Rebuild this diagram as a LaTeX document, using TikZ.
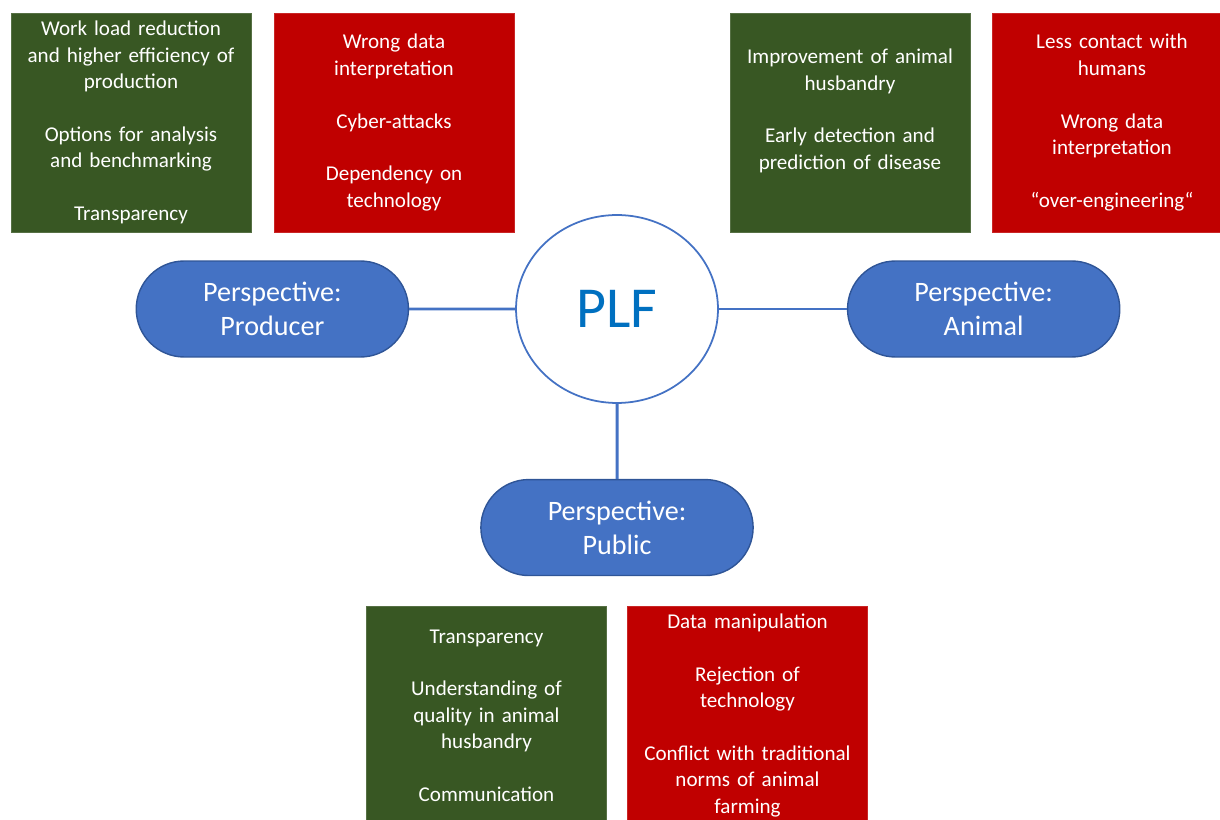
\documentclass[tikz,border=0pt]{standalone}
\usepackage{fontspec}
\setmainfont{Carlito}
\usetikzlibrary{positioning}
\usetikzlibrary{shapes.geometric, shapes.misc}
\definecolor{plfgreen}{HTML}{385723}
\definecolor{plfred}{HTML}{C00000}
\definecolor{plfblue}{HTML}{4472C4}
\definecolor{plfdark}{HTML}{2F5597}
\definecolor{plftext}{HTML}{0070C0}
\def\boxfont{\fontsize{12}{15}\selectfont}
\tikzset{
argbox/.style={draw=#1!85!white, fill=#1, text=white, thin,
	minimum width=4.8cm, minimum height=4.38cm, text width=4.7cm,
	align=center, inner sep=0pt, font=\boxfont},
pro/.style={argbox=plfgreen},
con/.style={argbox=plfred},
perspective/.style={rounded rectangle, draw=plfdark, fill=plfblue, text=white,
	line width=0.8pt, minimum width=5.68cm, minimum height=1.92cm, align=center,
	font=\fontsize{16}{19.5}\selectfont},
hub/.style={ellipse, draw=plfblue, line width=1pt, fill=white, text=plftext,
	minimum width=4.04cm, minimum height=3.76cm, inner sep=0pt,
	font=\fontsize{33}{36}\selectfont},
link/.style={plfblue, line width=1.7pt},
}

\begin{document}
\begin{tikzpicture}[x=0.02cm, y=-0.02cm]
	\useasboundingbox (0,0) rectangle (1220,820);
	\clip (0,0) rectangle (1220,820);

	% centre and the three perspectives
	\node[hub] (plf) at (617,309) {PLF};
	\node[perspective, left=2.12cm of plf] (producer) {Perspective:\\Producer};
	\node[perspective, right=2.56cm of plf] (animal) {Perspective:\\Animal};
	\node[perspective, below=1.5cm of plf] (public) {Perspective:\\Public};

	\draw[link] (producer) -- (plf);
	\draw[link] (plf) -- (animal);
	\draw[link] (plf) -- (public);

	% producer
	\node[pro] (producerpro) at (131,122.5) {Work load reduction\\and higher efficiency of\\production\\[15pt]
		Options for analysis\\and benchmarking\\[15pt]Transparency};
	\node[con] (producercon) at (394,122.5) {Wrong data\\interpretation\\[15pt]Cyber-attacks\\[15pt]
		Dependency on\\technology};

	% animal
	\node[pro] (animalpro) at (850,122.5) {Improvement of animal\\husbandry\\[15pt]
		Early detection and\\prediction of disease\\ \mbox{}};
	\node[con] (animalcon) at (1112,122.5) {Less contact with\\humans\\[15pt]
		Wrong data\\interpretation\\[15pt]“over-engineering“};

	% public
	\node[pro] (publicpro) at (486.5,715.5) {Transparency\\[15pt]Understanding of\\quality in animal\\husbandry\\[15pt]
		Communication};
	\node[con] (publiccon) at (747.5,715.5) {Data manipulation\\[15pt]Rejection of\\technology\\[15pt]
		Conflict with traditional\\norms of animal\\farming};
\end{tikzpicture}
\end{document}
